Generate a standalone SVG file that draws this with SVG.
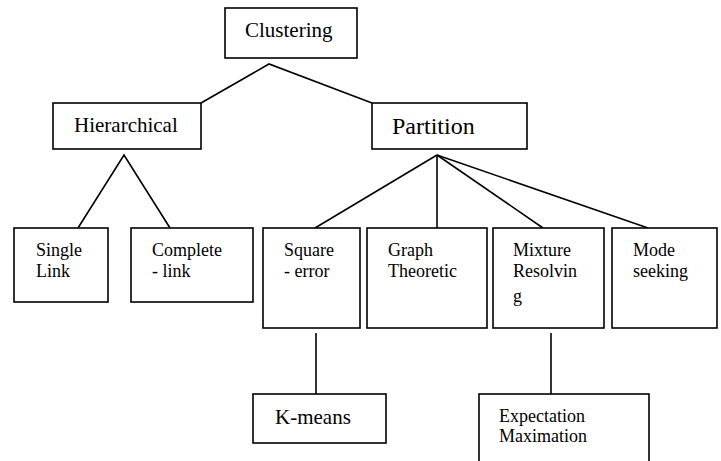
<svg xmlns="http://www.w3.org/2000/svg" width="721" height="461" viewBox="0 0 721 461">
<style>
.box{fill:#fff;stroke:#000;stroke-width:1.6}
.ln{fill:none;stroke:#000;stroke-width:1.6}
</style>
<rect width="721" height="461" fill="#fff"/>
<g id="connectors">
<polyline class="ln" points="201,103 269,64 372,103"/>
<polyline class="ln" points="78,228 124,155 170,228"/>
<line class="ln" x1="437" y1="155" x2="315" y2="228"/>
<line class="ln" x1="437" y1="155" x2="437" y2="228"/>
<line class="ln" x1="437" y1="155" x2="543" y2="228"/>
<line class="ln" x1="437" y1="155" x2="648" y2="228"/>
<line class="ln" x1="316" y1="333" x2="316" y2="394"/>
<line class="ln" x1="551" y1="333" x2="551" y2="394"/>
</g>
<g font-family="Liberation Serif, DejaVu Serif, serif" font-size="18" fill="#000">
<g id="clustering">
<rect class="box" x="225" y="8" width="132" height="50"/>
<text x="245" y="37" font-size="21">Clustering</text>
</g>
<g id="hierarchical">
<rect class="box" x="53" y="103" width="148" height="46"/>
<text x="74" y="132" font-size="21">Hierarchical</text>
</g>
<g id="partition">
<rect class="box" x="372" y="103" width="155" height="46"/>
<text x="392" y="134" font-size="24">Partition</text>
</g>
<g id="single-link">
<rect class="box" x="14" y="228" width="94" height="74"/>
<text x="36" y="256">Single</text>
<text x="36" y="277">Link</text>
</g>
<g id="complete-link">
<rect class="box" x="131" y="228" width="122" height="74"/>
<text x="152" y="256">Complete</text>
<text x="152" y="277">- link</text>
</g>
<g id="square-error">
<rect class="box" x="263" y="228" width="97" height="100"/>
<text x="284" y="256">Square</text>
<text x="284" y="277">- error</text>
</g>
<g id="graph-theoretic">
<rect class="box" x="367" y="228" width="120" height="100"/>
<text x="388" y="256">Graph</text>
<text x="388" y="277">Theoretic</text>
</g>
<g id="mixture-resolving">
<rect class="box" x="493" y="228" width="111" height="100"/>
<text x="513" y="256">Mixture</text>
<text x="513" y="277">Resolvin</text>
<text x="513" y="302">g</text>
</g>
<g id="mode-seeking">
<rect class="box" x="612" y="228" width="105" height="100"/>
<text x="633" y="256">Mode</text>
<text x="633" y="277">seeking</text>
</g>
<g id="k-means">
<rect class="box" x="253" y="394" width="133" height="49"/>
<text x="275" y="424" font-size="21">K-means</text>
</g>
<g id="expectation-maximation">
<rect class="box" x="479" y="394" width="170" height="80"/>
<text x="499" y="422">Expectation</text>
<text x="499" y="442">Maximation</text>
</g>
</g>
</svg>
